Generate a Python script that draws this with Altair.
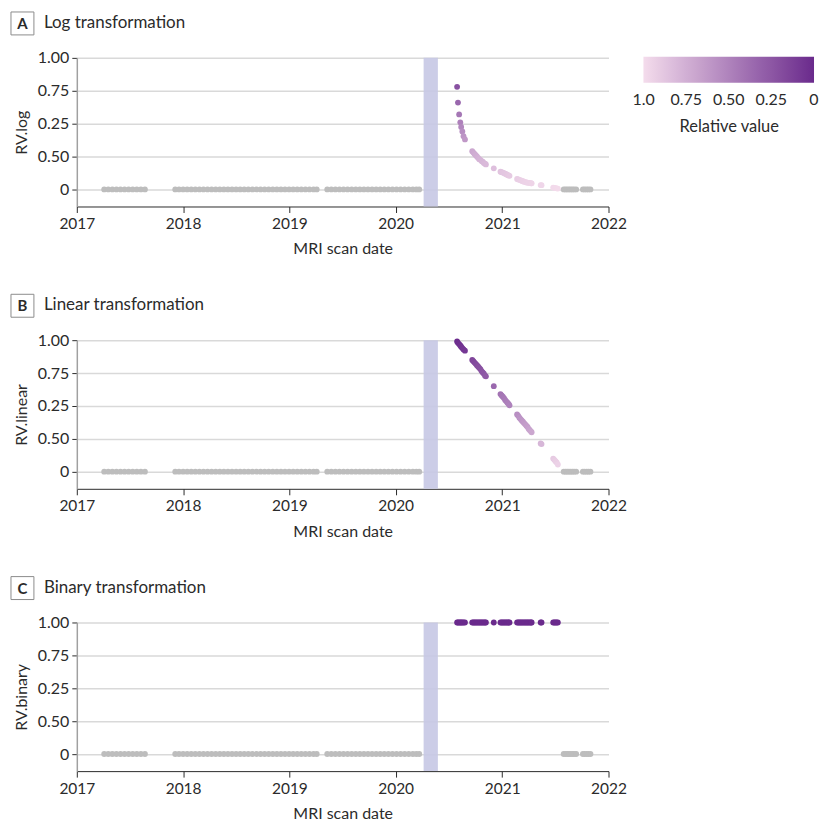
import altair as alt
import pandas as pd

# ---- data ---------------------------------------------------------------
# MRI scans before the interruption (relative value 0)
pre_dates = [
    "2017-04-05", "2017-04-19", "2017-05-03", "2017-05-17", "2017-05-31", "2017-06-14",
    "2017-06-28", "2017-07-12", "2017-07-26", "2017-08-09", "2017-08-23",
    "2017-12-05", "2017-12-18", "2018-01-01", "2018-01-15", "2018-01-29", "2018-02-12",
    "2018-02-26", "2018-03-12", "2018-03-26", "2018-04-09", "2018-04-23", "2018-05-07",
    "2018-05-21", "2018-06-04", "2018-06-18", "2018-07-02", "2018-07-16", "2018-07-30",
    "2018-08-13", "2018-08-27", "2018-09-10", "2018-09-24", "2018-10-08", "2018-10-22",
    "2018-11-05", "2018-11-19", "2018-12-03", "2018-12-17", "2018-12-31", "2019-01-14",
    "2019-01-28", "2019-02-11", "2019-02-25", "2019-03-11", "2019-03-25", "2019-04-05",
    "2019-05-11", "2019-05-25", "2019-06-08", "2019-06-22", "2019-07-06", "2019-07-20",
    "2019-08-03", "2019-08-17", "2019-08-31", "2019-09-14", "2019-09-28", "2019-10-12",
    "2019-10-26", "2019-11-09", "2019-11-23", "2019-12-07", "2019-12-21", "2020-01-04",
    "2020-01-18", "2020-02-01", "2020-02-15", "2020-02-29", "2020-03-12", "2020-03-22",
]

# MRI scans after the interruption, with the relative value under each transformation
post_dates = [
    "2020-07-30", "2020-08-02", "2020-08-06", "2020-08-10", "2020-08-13", "2020-08-17",
    "2020-08-21", "2020-08-26",
    "2020-09-20", "2020-09-24", "2020-09-28", "2020-10-02", "2020-10-06", "2020-10-10",
    "2020-10-14", "2020-10-18", "2020-10-22", "2020-10-26", "2020-10-30", "2020-11-03",
    "2020-11-06",
    "2020-12-03", "2020-12-26", "2020-12-30", "2021-01-03", "2021-01-07", "2021-01-11",
    "2021-01-15", "2021-01-19", "2021-01-23", "2021-01-26",
    "2021-02-21", "2021-02-25", "2021-03-01", "2021-03-05", "2021-03-09", "2021-03-13",
    "2021-03-17", "2021-03-21", "2021-03-25", "2021-03-29", "2021-04-02", "2021-04-06",
    "2021-04-10", "2021-04-12",
    "2021-05-13", "2021-05-16",
    "2021-06-25", "2021-06-29", "2021-07-03", "2021-07-07", "2021-07-11",
]
rv_log = [
    0.78, 0.66, 0.57, 0.51, 0.475, 0.44,
    0.405, 0.38,
    0.29, 0.28, 0.27, 0.26, 0.25, 0.24,
    0.23, 0.225, 0.215, 0.21, 0.20, 0.195,
    0.19,
    0.16, 0.135, 0.131, 0.128, 0.124, 0.119,
    0.115, 0.11, 0.106, 0.103,
    0.08, 0.076, 0.073, 0.069, 0.066, 0.062,
    0.059, 0.056, 0.053, 0.051, 0.05, 0.048,
    0.047, 0.046,
    0.033, 0.032,
    0.014, 0.012, 0.01, 0.008, 0.006,
]
rv_linear = [
    0.99, 0.98, 0.97, 0.96, 0.95, 0.94,
    0.93, 0.92,
    0.85, 0.84, 0.83, 0.82, 0.81, 0.80,
    0.79, 0.78, 0.765, 0.755, 0.745, 0.73,
    0.725,
    0.65, 0.59, 0.58, 0.57, 0.56, 0.545,
    0.535, 0.525, 0.515, 0.505,
    0.435, 0.425, 0.41, 0.40, 0.39, 0.38,
    0.37, 0.36, 0.35, 0.34, 0.325, 0.315,
    0.305, 0.30,
    0.215, 0.21,
    0.10, 0.09, 0.08, 0.07, 0.055,
]
rv_binary = [
    1, 1, 1, 1, 1, 1,
    1, 1,
    1, 1, 1, 1, 1, 1,
    1, 1, 1, 1, 1, 1,
    1,
    1, 1, 1, 1, 1, 1,
    1, 1, 1, 1,
    1, 1, 1, 1, 1, 1,
    1, 1, 1, 1, 1, 1,
    1, 1,
    1, 1,
    1, 1, 1, 1, 1,
]

# MRI scans after the one-year window (relative value back to 0)
late_dates = [
    "2021-07-31", "2021-08-06", "2021-08-12", "2021-08-18", "2021-08-24", "2021-08-30",
    "2021-09-05", "2021-09-12", "2021-10-05", "2021-10-11", "2021-10-18", "2021-10-24",
    "2021-10-31",
]

# interruption period shaded in every panel
break_start = "2020-04-06"
break_end = "2020-05-25"

panels = [
    ("A", "Log transformation", "RV.log", rv_log),
    ("B", "Linear transformation", "RV.linear", rv_linear),
    ("C", "Binary transformation", "RV.binary", rv_binary),
]

# ---- styling ------------------------------------------------------------
FONT = "Lato"
W, H = 533, 149
GRAY = "#bdbdbd"
TEXT = "#2b2b2b"
DOT = 34

y_label_expr = (
    "datum.value == 1 ? '1.00' : datum.value == 0.75 ? '0.75' : "
    "datum.value == 0.5 ? '0.25' : datum.value == 0.25 ? '0.50' : '0'"
)
legend_label_expr = (
    "datum.value == 0 ? '1.0' : datum.value == 0.25 ? '0.75' : "
    "datum.value == 0.5 ? '0.50' : datum.value == 0.75 ? '0.25' : '0'"
)

x_scale = alt.Scale(
    type="utc",
    domain=[alt.DateTime(year=2017, month=1, date=1, utc=True),
            alt.DateTime(year=2022, month=1, date=1, utc=True)],
)
y_scale = alt.Scale(domain=[-0.13, 1.0], nice=False, zero=False)
# a hair of slack on both ends keeps the end labels of the gradient centred on their stops
color_scale = alt.Scale(domain=[-0.001, 1.001], range=["#f4dcec", "#6a2a8c"],
                        interpolate="rgb", nice=False, zero=False)


def panel(letter, title, ytitle, values, show_legend):
    zero_df = pd.DataFrame({"date": pre_dates + late_dates,
                            "rv": [0.0] * (len(pre_dates) + len(late_dates))})
    post_df = pd.DataFrame({"date": post_dates, "rv": values})
    band_df = pd.DataFrame({"start": [break_start], "end": [break_end]})
    head_df = pd.DataFrame({"letter": [letter], "title": [title]})

    x_enc = alt.X(
        "date:T", scale=x_scale, title="MRI scan date",
        axis=alt.Axis(format="%Y", tickCount={"interval": "year", "step": 1},
                      grid=False, domainColor=TEXT, tickColor=TEXT, tickSize=6,
                      labelFlush=False, labelPadding=4, titlePadding=9,
                      labelFontSize=15.5),
    )
    y_enc = alt.Y(
        "rv:Q", scale=y_scale, title=ytitle,
        axis=alt.Axis(values=[0, 0.25, 0.5, 0.75, 1], labelExpr=y_label_expr,
                      grid=True, gridColor="#d9d9d9", gridWidth=1.5,
                      domainColor="#a0a0a0", domainWidth=1.5,
                      tickColor=TEXT, tickSize=5, labelPadding=3, titlePadding=8,
                      labelFontSize=16),
    )

    band = alt.Chart(band_df).mark_rect(color="#c6c8e4", opacity=0.9).encode(
        x=alt.X("start:T", scale=x_scale),
        x2="end:T",
        y=alt.value(0),
        y2=alt.value(H),
    )
    gray_pts = alt.Chart(zero_df).mark_circle(size=DOT, color=GRAY, opacity=1).encode(
        x=x_enc, y=y_enc
    )
    if show_legend:
        legend = alt.Legend(
            orient="none", legendX=568, legendY=-1, direction="horizontal",
            title="Relative value", titleOrient="bottom", titleAnchor="middle",
            gradientLength=171, gradientThickness=26, gradientStrokeWidth=0,
            values=[0, 0.25, 0.5, 0.75, 1], labelExpr=legend_label_expr,
            labelAlign="center", labelFontSize=16, titleFontSize=16.5,
            labelColor=TEXT, titleColor=TEXT, titleFontWeight="normal",
            labelFont=FONT, titleFont=FONT, titlePadding=11, labelOffset=9,
            labelOverlap=False,
        )
    else:
        legend = None
    color_pts = alt.Chart(post_df).mark_circle(size=DOT, opacity=1).encode(
        x=x_enc, y=y_enc,
        color=alt.Color("rv:Q", scale=color_scale, title="Relative value", legend=legend),
    )

    box = alt.Chart(head_df).mark_rect(fill="white", stroke="#8c8c8c", strokeWidth=1).encode(
        x=alt.value(-66), x2=alt.value(-43), y=alt.value(-46), y2=alt.value(-23)
    )
    letter_txt = alt.Chart(head_df).mark_text(
        font=FONT, fontSize=15, fontWeight="bold", color=TEXT,
        align="center", baseline="middle",
    ).encode(text="letter:N", x=alt.value(-54.5), y=alt.value(-34))
    title_txt = alt.Chart(head_df).mark_text(
        font=FONT, fontSize=17, color=TEXT, align="left", baseline="middle",
    ).encode(text="title:N", x=alt.value(-33), y=alt.value(-35))

    return alt.layer(band, gray_pts, color_pts, box, letter_txt, title_txt).properties(
        width=W, height=H
    )


chart = alt.vconcat(
    *[panel(l, t, yt, v, i == 0) for i, (l, t, yt, v) in enumerate(panels)],
    spacing=36,
).resolve_scale(color="shared").properties(
    padding={"left": 10, "top": 10, "right": 0, "bottom": 0}
).configure_view(stroke=None).configure_axis(
    labelFont=FONT, titleFont=FONT, titleFontSize=16,
    labelColor=TEXT, titleColor=TEXT, titleFontWeight="normal",
)

chart.save("out.html", embed_options={"renderer": "svg", "actions": False})
